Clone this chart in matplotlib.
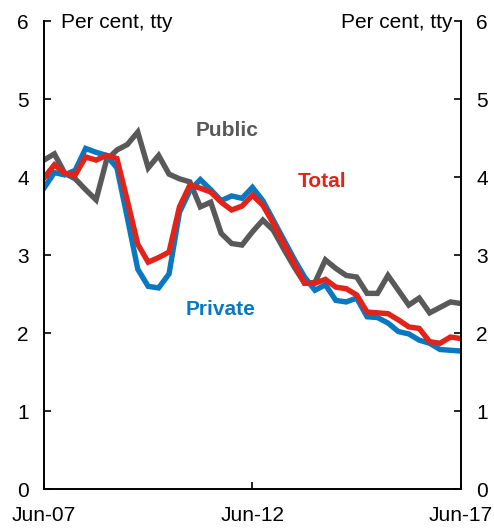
import numpy as np
import matplotlib.pyplot as plt

plt.rcParams['font.family'] = ['Liberation Sans', 'DejaVu Sans']

# quarterly, Jun-07 to Jun-17
quarters = np.arange(41)
public = [4.22, 4.30, 4.05, 3.98, 3.84, 3.71, 4.22, 4.35, 4.42, 4.58,
          4.12, 4.28, 4.04, 3.98, 3.94, 3.62, 3.68, 3.28, 3.15, 3.13,
          3.30, 3.45, 3.32, 3.08, 2.85, 2.64, 2.65, 2.94, 2.83, 2.74,
          2.72, 2.51, 2.51, 2.74, 2.55, 2.36, 2.45, 2.26, 2.33, 2.40, 2.38]
total = [3.99, 4.16, 4.05, 4.03, 4.26, 4.22, 4.28, 4.24, 3.70, 3.14,
         2.91, 2.97, 3.04, 3.62, 3.90, 3.86, 3.81, 3.68, 3.58, 3.63,
         3.77, 3.64, 3.41, 3.15, 2.90, 2.64, 2.64, 2.69, 2.59, 2.57,
         2.49, 2.27, 2.26, 2.25, 2.17, 2.08, 2.06, 1.89, 1.87, 1.95, 1.93]
private = [3.86, 4.06, 4.03, 4.09, 4.37, 4.32, 4.28, 4.12, 3.48, 2.82,
           2.60, 2.58, 2.76, 3.55, 3.83, 3.97, 3.84, 3.70, 3.76, 3.73,
           3.87, 3.70, 3.45, 3.20, 2.95, 2.72, 2.55, 2.62, 2.42, 2.40,
           2.45, 2.21, 2.20, 2.13, 2.02, 1.99, 1.91, 1.87, 1.79, 1.78, 1.77]
xtick_pos = [0, 20, 40]
xtick_labels = ["Jun-07", "Jun-12", "Jun-17"]

grey = "#595959"
blue = "#0A78C0"
red = "#E2231A"

fig = plt.figure(figsize=(4.94, 5.29), dpi=100)
ax = fig.add_axes([0.089, 0.0756, 0.844, 0.884])

ax.plot(quarters, public, color=grey, lw=3.9, solid_joinstyle='miter')
ax.plot(quarters, private, color=blue, lw=3.9, solid_joinstyle='miter')
ax.plot(quarters, total, color=red, lw=3.9, solid_joinstyle='miter')

ax.set_xlim(0, 40)
ax.set_ylim(0, 6)
ax.set_xticks(xtick_pos)
ax.set_xticklabels(xtick_labels)
ax.set_yticks(range(7))
ax.tick_params(axis='both', direction='in', length=5, width=1.2, labelsize=15,
               right=True, labelright=True)
ax.tick_params(axis='y', pad=11)
ax.tick_params(axis='x', pad=12)
ax.spines['top'].set_visible(False)
for s in ['left', 'right', 'bottom']:
    ax.spines[s].set_linewidth(1.4)

ax.text(0.04, 0.997, "Per cent, tty", transform=ax.transAxes, fontsize=15,
        ha='left', va='center')
ax.text(0.98, 0.997, "Per cent, tty", transform=ax.transAxes, fontsize=15,
        ha='right', va='center')

ax.text(17.6, 4.6, "Public", color=grey, fontsize=15, fontweight='bold', ha='center', va='center')
ax.text(26.7, 3.95, "Total", color=red, fontsize=15, fontweight='bold', ha='center', va='center')
ax.text(16.9, 2.3, "Private", color=blue, fontsize=15, fontweight='bold', ha='center', va='center')

fig.savefig("out.png", dpi=100)
